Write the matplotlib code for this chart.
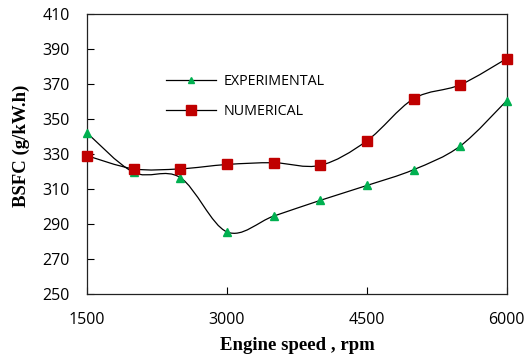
import matplotlib.pyplot as plt
from matplotlib.path import Path
from matplotlib.patches import PathPatch
from matplotlib.lines import Line2D

speed = [1500, 2000, 2500, 3000, 3500, 4000, 4500, 5000, 5500, 6000]
experimental = [342, 319.5, 316.5, 285.5, 294.5, 303.5, 312, 321, 334.5, 360.5]
numerical = [329, 321.5, 321.5, 324, 325, 323.5, 337.5, 361.5, 369.5, 384.5]

x_ticks = [1500, 3000, 4500, 6000]
y_ticks = list(range(250, 411, 20))


def smooth_path(xs, ys):
    # Excel-like smoothed line: Catmull-Rom segments as cubic Bezier curves
    pts = list(zip(xs, ys))
    verts = [pts[0]]
    codes = [Path.MOVETO]
    n = len(pts)
    for i in range(n - 1):
        p0 = pts[i - 1] if i > 0 else pts[i]
        p1 = pts[i]
        p2 = pts[i + 1]
        p3 = pts[i + 2] if i + 2 < n else pts[i + 1]
        c1 = (p1[0] + (p2[0] - p0[0]) / 6, p1[1] + (p2[1] - p0[1]) / 6)
        c2 = (p2[0] - (p3[0] - p1[0]) / 6, p2[1] - (p3[1] - p1[1]) / 6)
        verts += [c1, c2, p2]
        codes += [Path.CURVE4] * 3
    return Path(verts, codes)


fig = plt.figure(figsize=(5.29, 3.56), dpi=100)
ax = fig.add_axes([0.1645, 0.174, 0.7935, 0.787])

for ys in (experimental, numerical):
    ax.add_patch(PathPatch(smooth_path(speed, ys), facecolor='none',
                           edgecolor='black', linewidth=0.9, zorder=2))

ax.plot(speed, experimental, linestyle='none', marker='^', color='#00B050',
        markersize=6, zorder=3, clip_on=False)
ax.plot(speed, numerical, linestyle='none', marker='s', color='#C00000',
        markersize=7.3, zorder=3, clip_on=False)

handles = [
    Line2D([], [], color='black', linewidth=0.9, marker='^',
           markerfacecolor='#00B050', markeredgecolor='#00B050', markersize=5),
    Line2D([], [], color='black', linewidth=0.9, marker='s',
           markerfacecolor='#C00000', markeredgecolor='#C00000', markersize=6.5),
]
ax.legend(handles, ['EXPERIMENTAL', 'NUMERICAL'], frameon=False,
          loc='upper left', bbox_to_anchor=(0.158, 0.83), handlelength=3.5,
          handletextpad=0.5, labelspacing=1.05,
          prop={'family': 'Open Sans', 'size': 10.3})

ax.set_xlim(1500, 6000)
ax.set_ylim(250, 410)
ax.set_xticks(x_ticks)
ax.set_yticks(y_ticks)
ax.tick_params(direction='in', length=5, width=0.8, labelsize=11.5)
ax.tick_params(axis='x', pad=13)
ax.tick_params(axis='y', pad=12.5)
for lab in ax.get_xticklabels() + ax.get_yticklabels():
    lab.set_family('Open Sans')
for s in ax.spines.values():
    s.set_linewidth(0.9)
    s.set_color('#222222')

ax.set_xlabel('Engine speed , rpm', fontsize=13.5, fontweight='bold',
              family='Liberation Serif')
ax.set_ylabel('BSFC (g/kW.h)', fontsize=13.5, fontweight='bold',
              family='Liberation Serif')
ax.xaxis.set_label_coords(0.5, -0.155)
ax.yaxis.set_label_coords(-0.135, 0.53)

fig.savefig('out.png', dpi=100)
